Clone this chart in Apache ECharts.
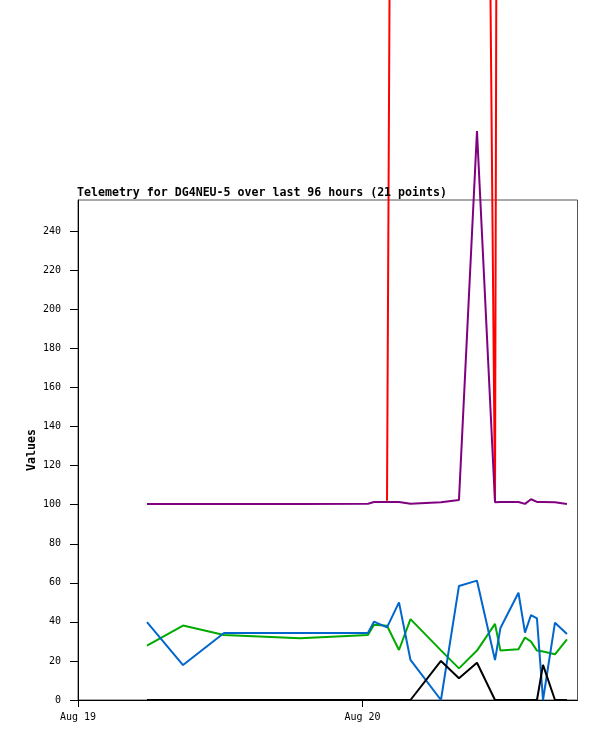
<!DOCTYPE html>
<html>
<head>
<meta charset="utf-8">
<script src="https://cdn.jsdelivr.net/npm/echarts@6/dist/echarts.min.js"></script>
<style>
    html, body { margin: 0; padding: 0; background: #fff; }
    #chart { width: 597px; height: 741px; }
</style>
</head>
<body>
<div id="chart"></div>
<script>
// hours since Aug 19 00:00
const hours = [5.82, 8.86, 12.32, 18.73, 24.46, 24.97, 26.07, 27.08, 28.05, 30.62, 32.14,
    33.66, 35.18, 35.64, 37.16, 37.71, 38.22, 38.72, 39.23, 40.24, 41.25];

const redValues = [null, null, null, null, null, null, 102, 1335, 1290, 1250, 1210,
    1133, 101.5, 1194, 1180, 1200, 1170, 1190, 1210, 1180, 1200];
const purpleValues = [100.4, 100.4, 100.4, 100.4, 100.5, 101.4, 101.4, 101.4, 100.5, 101.2, 102.4,
    291.3, 101.3, 101.4, 101.4, 100.4, 102.8, 101.4, 101.4, 101.2, 100.4];
const greenValues = [27.9, 38.1, 33.3, 31.6, 33.3, 38.5, 38.0, 25.6, 41.4, 25.4, 16.2,
    25.3, 39.0, 25.3, 26.0, 32.0, 29.9, 25.3, 24.8, 23.4, 31.1];
const blueValues = [39.9, 17.9, 34.3, 34.3, 34.3, 40.1, 37.2, 50.0, 20.5, 0, 58.4,
    61.1, 20.5, 36.9, 54.9, 34.5, 43.5, 41.8, 0, 39.6, 33.8];
const blackValues = [0, 0, 0, 0, 0, 0, 0, 0, 0, 20.0, 11.1,
    19.1, 0, 0, 0, 0, 0, 0, 18.0, 0, 0];

// tick positions
const dayTicks = [0, 24];
const dayLabels = { 0: 'Aug 19', 24: 'Aug 20' };
const valueTicks = [0, 20, 40, 60, 80, 100, 120, 140, 160, 180, 200, 220, 240];

const mono = 'DejaVu Sans Mono';

function line(values, color) {
    return {
        type: 'line',
        data: hours.map((h, i) => [h, values[i]]),
        showSymbol: false,
        clip: false,
        lineStyle: { color: color, width: 2 },
        itemStyle: { color: color }
    };
}

const chart = echarts.init(document.getElementById('chart'));
chart.setOption({
    animation: false,
    backgroundColor: '#fff',
    title: {
        text: 'Telemetry for DG4NEU-5 over last 96 hours (21 points)',
        left: 77,
        top: 187,
        padding: 0,
        textStyle: { fontFamily: mono, fontWeight: 'bold', fontSize: 11.6, color: '#000' }
    },
    grid: {
        left: 78, top: 200, right: 19.5, bottom: 41,
        show: true, borderColor: '#555', borderWidth: 1
    },
    xAxis: {
        type: 'value',
        min: 0,
        max: 42.14,
        interval: 24,
        axisLine: { lineStyle: { color: '#000', width: 1 } },
        axisTick: { length: 7, lineStyle: { color: '#000' }, customValues: dayTicks },
        splitLine: { show: false },
        axisLabel: {
            margin: 12,
            fontFamily: mono, fontSize: 10, color: '#000',
            customValues: dayTicks,
            formatter: v => dayLabels[v] || ''
        }
    },
    yAxis: {
        type: 'value',
        min: 0,
        max: 256,
        interval: 20,
        name: 'Values',
        nameLocation: 'middle',
        nameGap: 40,
        nameMoveOverlap: false,
        nameTextStyle: { fontFamily: mono, fontWeight: 'bold', fontSize: 11.6, color: '#000' },
        axisLine: { show: true, lineStyle: { color: '#000', width: 1 } },
        axisTick: { show: true, length: 8, lineStyle: { color: '#000' }, customValues: valueTicks },
        splitLine: { show: false },
        axisLabel: {
            margin: 17,
            fontFamily: mono, fontSize: 10, color: '#000',
            customValues: valueTicks
        }
    },
    series: [
        line(redValues, '#ff0000'),
        line(purpleValues, '#800080'),
        line(greenValues, '#00aa00'),
        line(blueValues, '#0066cc'),
        line(blackValues, '#000000')
    ]
});
</script>
</body>
</html>
